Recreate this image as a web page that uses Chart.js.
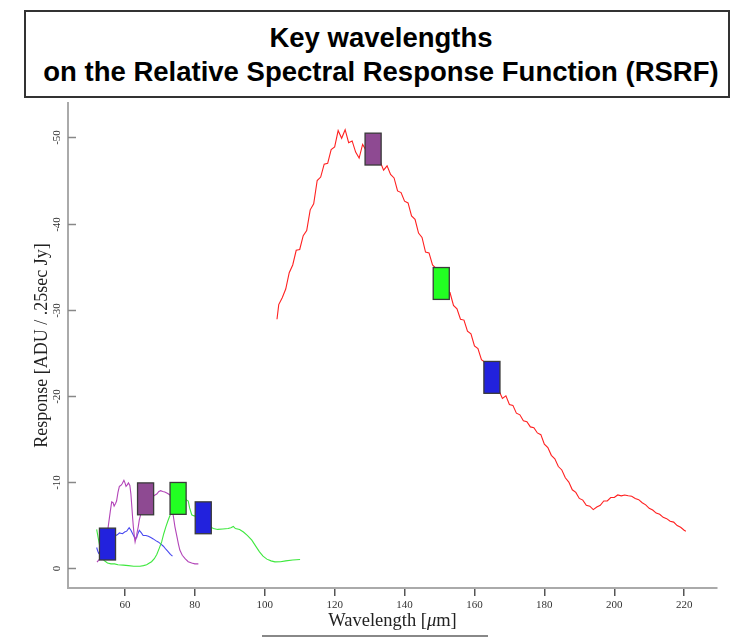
<!DOCTYPE html>
<html>
<head>
<meta charset="utf-8">
<script src="https://cdn.jsdelivr.net/npm/chart.js@4.4.0/dist/chart.umd.min.js"></script>
<style>
  html, body { margin: 0; padding: 0; background: #fff; }
  body { width: 731px; height: 640px; position: relative; overflow: hidden; }
  #c { position: absolute; left: 0; top: 0; }
  #titlebox {
    position: absolute; left: 24px; top: 10px; width: 706px; height: 88px;
    box-sizing: border-box; border: 2px solid #333; background: #fff;
    font-family: "Liberation Sans", Arial, sans-serif; font-weight: bold;
    font-size: 27.5px; line-height: 34px; text-align: center; color: #000;
    padding-top: 9px; padding-left: 8px; white-space: nowrap;
  }
  #underline {
    position: absolute; left: 262px; top: 635px; width: 226px; height: 2px; background: #888;
  }
</style>
</head>
<body>
<div id="titlebox">Key wavelengths<br>on the Relative Spectral Response Function (RSRF)</div>
<canvas id="c" width="731" height="640"></canvas>
<div id="underline"></div>
<script>
// ---- data ----
const xTickVals = [60, 80, 100, 120, 140, 160, 180, 200, 220];
const yTickVals = [0, 10, 20, 30, 40, 50];

const redWl = [103.5,104,105,106,107,108,109,110,111,112,113,114,115,116,117,118,119,120,121,122,123,124,125,126,127,128,129,130,131,132,133,134,135,136,137,138,139,140,141,142,143,144,145,146,147,148,149,150,151,152,153,154,155,156,157,158,159,160,161,162,163,164,165,166,167,168,169,170,171,172,173,174,175,176,177,178,179,180,181,182,183,184,185,186,187,188,189,190,191,192,193,194,195,196,197,198,199,200,201,202,203,204,205,206,207,208,209,210,211,212,213,214,215,216,217,218,219,220,220.5];
const redResp = [28.9,30.6,31.4,32.4,34.3,35.2,36.9,37.0,38.6,39.2,41.6,42.3,45.0,45.4,46.9,47.0,48.6,48.9,50.8,49.9,50.9,49.4,49.6,48.3,47.6,49.2,48.5,48.6,47.8,48.1,47.2,46.2,46.7,45.7,45.3,43.8,43.6,42.6,42.4,40.9,40.5,38.9,38.4,36.7,36.6,35.2,34.8,33.5,33.2,32.1,32.0,30.5,30.1,28.9,28.8,27.5,27.2,25.8,25.5,24.2,23.9,22.4,21.9,20.8,20.6,19.7,20.0,19.0,18.9,18.0,17.8,17.1,17.0,16.4,16.3,15.7,15.5,14.4,14.0,13.1,12.7,11.8,11.4,10.5,10.0,9.1,8.8,8.1,7.9,7.3,7.2,6.8,7.1,7.3,7.8,7.8,8.2,8.2,8.5,8.4,8.5,8.4,8.35,8.1,7.95,7.6,7.35,6.95,6.75,6.4,6.25,5.9,5.75,5.45,5.35,4.95,4.75,4.4,4.3];

const greenWl = [51.9,52.3,52.8,53.3,54.0,55.0,56.0,57.0,58.0,59.5,61.0,62.5,64.3,65.3,66.2,67.0,67.6,68.4,69.1,69.8,70.5,71.1,71.7,72.3,72.9,73.6,74.5,75.5,76.5,77.2,77.7,78.1,78.5,79.1,79.6,80.5,82.0,83.5,85.3,86.5,88.0,89.5,90.3,91.0,91.6,92.8,93.9,95.0,96.3,97.5,98.5,99.5,100.6,101.8,102.9,104.5,106.0,108.0,110.1];
const greenResp = [4.5,3.6,2.5,1.6,0.9,0.6,0.5,0.5,0.4,0.35,0.3,0.22,0.23,0.3,0.4,0.6,0.75,1.1,1.6,2.3,3.05,4.0,4.8,5.5,6.15,7.0,8.0,8.7,8.5,8.1,7.9,7.8,7.0,6.2,6.1,6.0,5.5,5.0,4.6,4.5,4.55,4.6,4.7,4.85,4.6,4.5,4.2,3.8,3.25,2.5,1.9,1.4,1.05,0.85,0.73,0.75,0.85,0.95,1.0];

const purpleWl = [52.0,52.6,53.8,54.6,55.2,55.8,56.2,56.6,56.9,57.3,57.6,58.0,58.4,58.8,59.2,59.7,60.0,60.3,60.7,61.0,61.4,61.7,61.9,62.2,62.4,62.7,62.9,63.2,63.4,63.8,64.1,65.0,66.5,67.5,68.1,68.6,69.1,69.7,70.2,70.8,71.4,72.1,72.9,73.4,73.8,74.3,74.9,75.3,75.7,76.4,77.2,78.1,79.1,80.0,81.0];
const purpleResp = [0.7,1.0,1.6,3.0,4.8,6.6,7.7,7.6,7.2,7.5,7.8,8.8,9.5,9.6,9.8,10.2,9.9,9.5,9.7,9.9,9.6,8.6,7.5,5.8,4.8,3.6,3.05,3.6,4.0,4.8,5.6,7.0,7.8,8.2,8.35,8.5,8.6,8.9,9.0,8.9,8.85,8.7,8.5,7.6,6.15,4.8,3.6,2.8,2.1,1.5,1.1,0.75,0.6,0.5,0.5];

const blueWl = [51.9,52.2,52.5,53.5,55.0,56.5,57.4,57.9,58.4,59.3,59.9,60.5,61.2,61.7,62.2,62.7,63.1,63.6,64.1,64.7,65.2,66.0,66.7,67.4,68.1,68.8,69.5,70.3,71.0,71.7,72.4,73.0,73.6];
const blueResp = [2.4,2.0,1.7,1.9,2.6,3.3,3.8,3.9,4.1,4.0,4.2,4.3,4.7,4.4,4.0,3.6,3.4,3.9,4.4,4.1,3.8,3.8,3.7,3.55,3.4,3.2,3.05,2.8,2.55,2.2,1.9,1.6,1.4];

// key wavelength markers (centre wavelength and centre response)
const keyWl   = [55.0, 65.9, 75.2, 82.4, 131.0, 150.5, 165.0];
const keyResp = [2.8, 8.05, 8.1, 5.85, 48.65, 33.05, 22.15];
const keyBand = ['blue', 'purple', 'green', 'blue', 'purple', 'green', 'blue'];

// ---- styles ----
const BOX_HALF_W = 2.3;   // wavelength units
const BOX_HALF_H = 1.85;  // response units
const bandFill = { blue: '#2222dd', purple: '#8e4a92', green: '#22ff22' };
const SERIF = '"Liberation Serif", "DejaVu Serif", serif';

function pts(xs, ys) { return xs.map((v, i) => ({ x: v, y: ys[i] })); }

const overlay = {
  id: 'overlay',
  afterDatasetsDraw(chart) {
    const { ctx, scales: { x, y } } = chart;
    ctx.save();
    keyWl.forEach((w, i) => {
      const l = x.getPixelForValue(w - BOX_HALF_W);
      const r = x.getPixelForValue(w + BOX_HALF_W);
      const t = y.getPixelForValue(keyResp[i] + BOX_HALF_H);
      const b = y.getPixelForValue(keyResp[i] - BOX_HALF_H);
      ctx.fillStyle = bandFill[keyBand[i]];
      ctx.fillRect(l, t, r - l, b - t);
      ctx.strokeStyle = '#3a3a3a';
      ctx.lineWidth = 1.3;
      ctx.strokeRect(l, t, r - l, b - t);
    });
    ctx.restore();
  },
  afterDraw(chart) {
    const { ctx, chartArea, scales: { x, y } } = chart;
    ctx.save();
    // y ticks (inward) and rotated labels
    yTickVals.forEach(v => {
      const py = Math.round(y.getPixelForValue(v)) + 0.5;
      ctx.strokeStyle = '#888';
      ctx.lineWidth = 1.5;
      ctx.beginPath();
      ctx.moveTo(chartArea.left, py);
      ctx.lineTo(chartArea.left + 8, py);
      ctx.stroke();
      ctx.save();
      ctx.translate(57, py);
      ctx.rotate(-Math.PI / 2);
      ctx.font = '11px ' + SERIF;
      ctx.fillStyle = '#333';
      ctx.textAlign = 'center';
      ctx.textBaseline = 'middle';
      ctx.fillText(v === 0 ? '0' : '-' + v, 0, 0);
      ctx.restore();
    });
    // x axis title with italic mu
    const parts = [['Wavelength [', ''], ['\u03bc', 'italic '], ['m]', '']];
    const fs = '18.5px ';
    let total = 0;
    parts.forEach(p => { ctx.font = p[1] + fs + SERIF; total += ctx.measureText(p[0]).width; });
    let px = (chartArea.left + chartArea.right) / 2 - total / 2;
    ctx.fillStyle = '#222';
    ctx.textBaseline = 'middle';
    ctx.textAlign = 'left';
    parts.forEach(p => {
      ctx.font = p[1] + fs + SERIF;
      ctx.fillText(p[0], px, 621);
      px += ctx.measureText(p[0]).width;
    });
    ctx.restore();
  }
};

new Chart(document.getElementById('c'), {
  type: 'line',
  data: {
    datasets: [
      { data: pts(redWl, redResp), borderColor: '#ff2020', borderWidth: 1.1 },
      { data: pts(greenWl, greenResp), borderColor: '#3ee83e', borderWidth: 1.1 },
      { data: pts(purpleWl, purpleResp), borderColor: '#b244b8', borderWidth: 1.1 },
      { data: pts(blueWl, blueResp), borderColor: '#4848f0', borderWidth: 1.1 }
    ]
  },
  options: {
    responsive: false,
    animation: false,
    devicePixelRatio: 1,
    layout: { padding: { top: 103, right: 14, left: 0, bottom: 0 } },
    elements: { point: { radius: 0 }, line: { tension: 0 } },
    plugins: { legend: { display: false }, tooltip: { enabled: false }, title: { display: false } },
    scales: {
      x: {
        type: 'linear', min: 43.7, max: 229.4,
        afterBuildTicks: s => { s.ticks = xTickVals.map(v => ({ value: v })); },
        afterFit: s => { s.height = 52; },
        border: { display: true, color: '#aaa', width: 2 },
        grid: { display: true, drawOnChartArea: false, drawTicks: true, tickLength: 8, color: '#555', lineWidth: 1.5 },
        ticks: { font: { family: SERIF, size: 11 }, color: '#333', padding: 3, maxRotation: 0, autoSkip: false }
      },
      y: {
        type: 'linear', min: -2.3, max: 54,
        afterBuildTicks: s => { s.ticks = yTickVals.map(v => ({ value: v })); },
        afterFit: s => { s.width = 68; },
        border: { display: true, color: '#aaa', width: 2 },
        grid: { display: false },
        ticks: { display: false },
        title: { display: true, text: 'Response [ADU / .25sec Jy]', font: { family: SERIF, size: 18 }, color: '#222', padding: { top: 31, bottom: 0 } }
      }
    }
  },
  plugins: [overlay]
});
</script>
</body>
</html>
